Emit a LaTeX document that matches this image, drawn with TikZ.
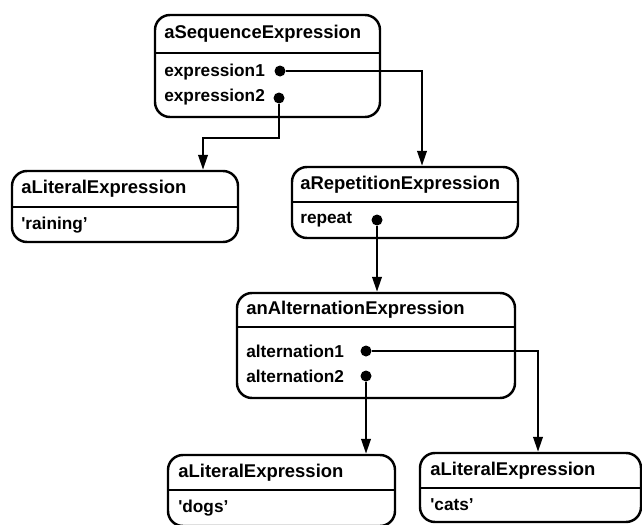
\documentclass[tikz,border=0pt]{standalone}
\usepackage{fontspec}
\setmainfont{Liberation Sans}
\usetikzlibrary{arrows.meta}

\tikzset{
  obj/.style 2 args={draw, line width=1.4pt, rounded corners=0.3cm,
    minimum width=#1*0.02cm, minimum height=#2*0.02cm, inner sep=0pt},
  dot/.style={circle, fill, inner sep=0pt, minimum size=0.22cm},
  hd/.style={anchor=west, inner sep=0pt, font=\bfseries\fontsize{10.5}{12}\selectfont},
  att/.style={anchor=west, inner sep=0pt, font=\bfseries\fontsize{9.8}{12}\selectfont},
  link/.style={line width=1.3pt, -{Triangle[length=0.3cm,width=0.19cm]}},
}

\begin{document}
\begin{tikzpicture}[x=0.02cm,y=-0.02cm]
		\useasboundingbox (0,0) rectangle (642,524);
		
		%sequence
		\node[obj={225}{102}] (seq) at (267.5,66) {};
		\draw[line width=1.4pt] (155,53) -- (380,53);
		\node[hd] (seqname) at (164,34) {aSequenceExpression};
		\node[att] (e1text) at (164,72) {expression1};
		\node[att] (e2text) at (164,97) {expression2};
		\node[dot] (e1) at (280,71) {};
		\node[dot] (e2) at (279,98) {};
		
		%literal raining
		\node[obj={226}{71}] (lit1) at (125,206.5) {};
		\draw[line width=1.4pt] (12,207) -- (238,207);
		\node[hd] (lit1name) at (21,189) {aLiteralExpression};
		\node[att] (lit1text) at (21,225) {\textquotesingle raining'};
		
		%repetition
		\node[obj={226}{71}] (rep) at (405,202.5) {};
		\draw[line width=1.4pt] (292,202) -- (518,202);
		\node[hd] (repname) at (300,185) {aRepetitionExpression};
		\node[att] (reptext) at (300,220) {repeat};
		\node[dot] (r1) at (377,220) {};
		
		%alternation
		\node[obj={278}{105}] (alt) at (376,345.5) {};
		\draw[line width=1.4pt] (237,327) -- (515,327);
		\node[hd] (altname) at (246,310) {anAlternationExpression};
		\node[att] (a1text) at (246,351) {alternation1};
		\node[att] (a2text) at (246,376) {alternation2};
		\node[dot] (a1) at (366,351) {};
		\node[dot] (a2) at (366,376) {};
		
		%literal dogs
		\node[obj={227}{71}] (dogs) at (281.5,490.5) {};
		\draw[line width=1.4pt] (168,490) -- (395,490);
		\node[hd] (dogsname) at (178,473) {aLiteralExpression};
		\node[att] (dogstext) at (178,508) {\textquotesingle dogs'};
		
		%literal cats
		\node[obj={221}{69}] (cats) at (530.5,487.5) {};
		\draw[line width=1.4pt] (420,488) -- (641,488);
		\node[hd] (catsname) at (430,471) {aLiteralExpression};
		\node[att] (catstext) at (430,505) {\textquotesingle cats'};
		
		%links
		\coordinate (k1) at (422,71);
		\coordinate (k2) at (279,138);
		\coordinate (k3) at (203,138);
		\coordinate (k4) at (538,351);
		\draw[link] (e1) -- (k1) -- (k1 |- rep.north);
		\draw[link] (e2) -- (k2) -- (k3) -- (k3 |- lit1.north);
		\draw[link] (r1) -- (r1 |- alt.north);
		\draw[link] (a1) -- (k4) -- (k4 |- cats.north);
		\draw[link] (a2) -- (a2 |- dogs.north);
	\end{tikzpicture}
\end{document}
